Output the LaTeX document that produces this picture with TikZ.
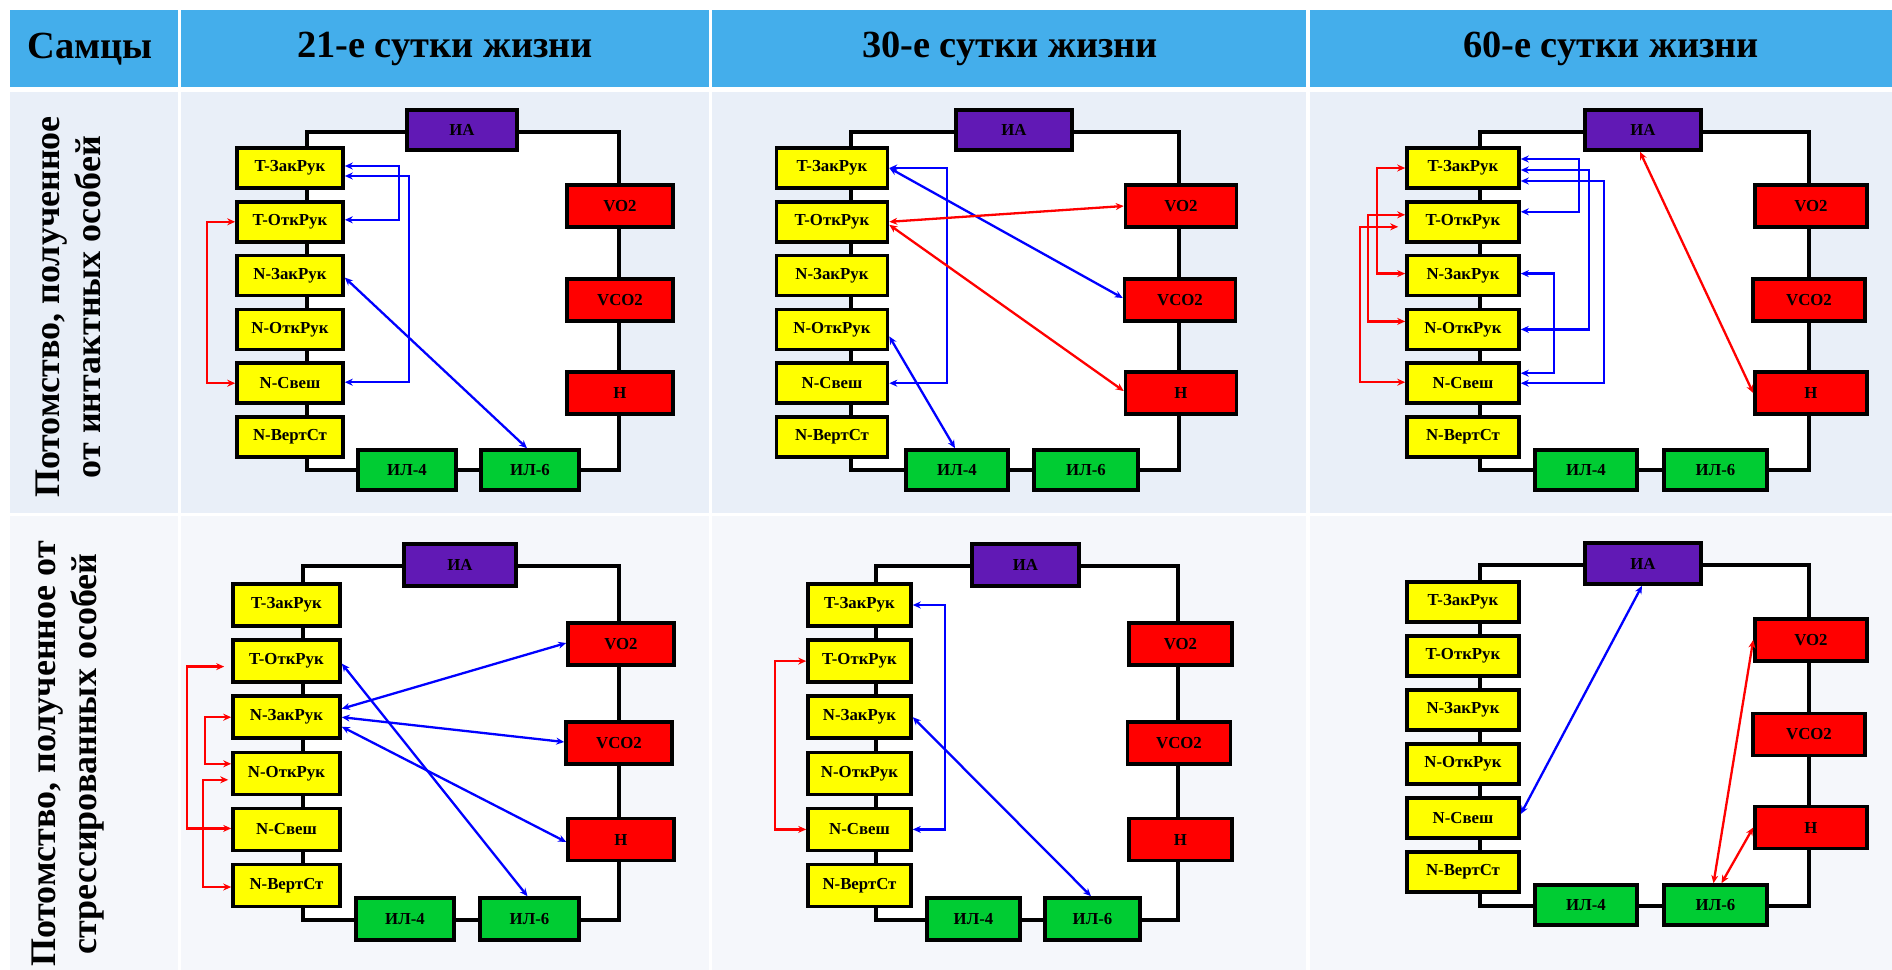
\documentclass[tikz,border=0pt]{standalone}
\usepackage{fontspec}
\setmainfont{Liberation Serif}
\usetikzlibrary{arrows.meta,calc}
\definecolor{hdr}{HTML}{44AEEB}
\definecolor{rowa}{HTML}{E9EFF8}
\definecolor{rowb}{HTML}{F5F7FB}
\definecolor{yel}{HTML}{FFFF00}
\definecolor{redc}{HTML}{FF0000}
\definecolor{grn}{HTML}{00CC33}
\definecolor{pur}{HTML}{6119B5}
\definecolor{blu}{HTML}{0000FF}
\newcommand\ycol[6]{%
  \foreach \nm/\lb [count=\i from 0] in {tz/T-ЗакРук,to/T-ОткРук,nz/N-ЗакРук,no/N-ОткРук,ns/N-Свеш,nv/N-ВертСт}{%
    \node[ybox,minimum width=#3,minimum height=#6] (#1\nm) at (#2,{#4+\i*#5}) {\lb};}}
\begin{document}
\begin{tikzpicture}[x=0.5pt,y=-0.5pt,
  bx/.style={draw=black,line width=1.8pt,inner sep=0pt,font=\bfseries\fontsize{8.4}{9}\selectfont,text=black},
  ybox/.style={bx,fill=yel},
  rbox/.style={bx,fill=redc},
  gbox/.style={bx,fill=grn},
  pbox/.style={bx,fill=pur},
  ring/.style={draw=black,line width=2.2pt,fill=white},
  ba/.style={draw=blu,line width=1.15pt,{Stealth[length=4pt,width=3.5pt]}-{Stealth[length=4pt,width=3.5pt]}},
  ra/.style={ba,draw=redc},
  hd/.style={font=\bfseries\fontsize{19.2}{23}\selectfont,text=black},
  rl/.style={font=\bfseries\fontsize{18}{20.5}\selectfont,rotate=90,align=center,text=black}
]
\useasboundingbox (0,0) rectangle (1892,970);
\fill[white] (0,0) rectangle (1892,970);
% table cells
\fill[hdr] (10,10) rectangle (178,87);
\fill[hdr] (181,10) rectangle (709,87);
\fill[hdr] (712,10) rectangle (1306,87);
\fill[hdr] (1310,10) rectangle (1892,87);
\fill[rowa] (10,92) rectangle (178,513);
\fill[rowa] (181,92) rectangle (709,513);
\fill[rowa] (712,92) rectangle (1306,513);
\fill[rowa] (1310,92) rectangle (1892,513);
\fill[rowb] (10,516) rectangle (178,970);
\fill[rowb] (181,516) rectangle (709,970);
\fill[rowb] (712,516) rectangle (1306,970);
\fill[rowb] (1310,516) rectangle (1892,970);
% headers
\node[hd] (hsam) at (90,49) {Самцы};
\node[hd] (h21) at (445,49) {21-е сутки жизни};
\node[hd] (h30) at (1010,49) {30-е сутки жизни};
\node[hd] (h60) at (1611,49) {60-е сутки жизни};
\node[rl] (r1) at (68,307) {Потомство, полученное\\от интактных особей};
\node[rl] (r2) at (68,754) {Потомство, полученное от\\стрессированных особей};
% rings
\draw[ring] (307,132) rectangle (619,470);
\draw[ring] (851,132) rectangle (1179,470);
\draw[ring] (1480,132) rectangle (1809,470);
\draw[ring] (303,566) rectangle (619,920);
\draw[ring] (876,566) rectangle (1178,920);
\draw[ring] (1480,565) rectangle (1809,906);
% ---------- panel 1
\ycol{p1}{290}{53pt}{168}{53.8}{20pt}
\node[pbox,minimum width=55pt,minimum height=20pt] (p1ia) at (462,130) {ИА};
\node[rbox,minimum width=53pt,minimum height=21pt] (p1vo) at (620,206) {VO2};
\node[rbox,minimum width=53pt,minimum height=21pt] (p1vc) at (620,300) {VCO2};
\node[rbox,minimum width=53pt,minimum height=21pt] (p1h) at (620,393) {Н};
\node[gbox,minimum width=49pt,minimum height=20pt] (p1i4) at (407,470) {ИЛ-4};
\node[gbox,minimum width=49pt,minimum height=20pt] (p1i6) at (530,470) {ИЛ-6};
\draw[ba] ($(p1tz.east)+(0,-2)$) -- ++(54,0) |- ($(p1to.east)+(0,-2)$);
\draw[ba] ($(p1tz.east)+(0,8)$) -- ++(64,0) |- ($(p1ns.east)+(0,-1)$);
\draw[ba] ($(p1nz.east)+(0,2)$) -- ($(p1i6.north)+(-3,0)$);
\draw[ra] (p1to.west) -- ++(-28,0) |- (p1ns.west);
% ---------- panel 2
\ycol{p2}{832}{55.5pt}{168}{53.8}{20pt}
\node[pbox,minimum width=58pt,minimum height=20pt] (p2ia) at (1014,130) {ИА};
\node[rbox,minimum width=55.5pt,minimum height=21pt] (p2vo) at (1181,206) {VO2};
\node[rbox,minimum width=55.5pt,minimum height=21pt] (p2vc) at (1180,300) {VCO2};
\node[rbox,minimum width=55.5pt,minimum height=21pt] (p2h) at (1181,393) {Н};
\node[gbox,minimum width=51pt,minimum height=20pt] (p2i4) at (957,470) {ИЛ-4};
\node[gbox,minimum width=52pt,minimum height=20pt] (p2i6) at (1086,470) {ИЛ-6};
\draw[ba] (p2tz.east) -- ++(58,0) |- (p2ns.east);
\draw[ba] (p2tz.east) -- ($(p2vc.west)+(0,-2)$);
\draw[ra] (p2to.east) -- (p2vo.west);
\draw[ra] ($(p2to.east)+(0,3)$) -- ($(p2h.west)+(0,-2)$);
\draw[ba] ($(p2no.east)+(0,7)$) -- ($(p2i4.north)+(-2,0)$);
% ---------- panel 3
\ycol{p3}{1463}{56pt}{168}{53.8}{20pt}
\node[pbox,minimum width=58pt,minimum height=20pt] (p3ia) at (1643,130) {ИА};
\node[rbox,minimum width=56pt,minimum height=21pt] (p3vo) at (1811,206) {VO2};
\node[rbox,minimum width=56pt,minimum height=21pt] (p3vc) at (1809,300) {VCO2};
\node[rbox,minimum width=56pt,minimum height=21pt] (p3h) at (1811,393) {Н};
\node[gbox,minimum width=51pt,minimum height=20pt] (p3i4) at (1586,470) {ИЛ-4};
\node[gbox,minimum width=51.5pt,minimum height=20pt] (p3i6) at (1715.5,470) {ИЛ-6};
\draw[ba] ($(p3tz.east)+(0,-9)$) -- ++(58,0) |- ($(p3to.east)+(0,-10)$);
\draw[ba] ($(p3tz.east)+(0,2)$) -- ++(68,0) |- (p3no.east);
\draw[ba] ($(p3tz.east)+(0,13)$) -- ++(83,0) |- (p3ns.east);
\draw[ba] ($(p3nz.east)+(0,-2)$) -- ++(33,0) |- ($(p3ns.east)+(0,-10)$);
\draw[ra] (p3tz.west) -- ++(-28,0) |- ($(p3nz.west)+(0,-2)$);
\draw[ra] ($(p3to.west)+(0,-7)$) -- ++(-37,0) |- ($(p3no.west)+(0,-8)$);
\draw[ra] ($(p3to.west)+(-7,5)$) -- ++(-38,0) |- ($(p3ns.west)+(0,-1)$);
\draw[ra] ($(p3ia.south)+(-3,0)$) -- (p3h.west);
% ---------- panel 4
\ycol{p4}{286.5}{53.5pt}{605}{56.1}{21pt}
\node[pbox,minimum width=56pt,minimum height=21pt] (p4ia) at (460,565) {ИА};
\node[rbox,minimum width=53pt,minimum height=21pt] (p4vo) at (621,644) {VO2};
\node[rbox,minimum width=53pt,minimum height=21pt] (p4vc) at (619,743) {VCO2};
\node[rbox,minimum width=53pt,minimum height=21pt] (p4h) at (621,839.5) {Н};
\node[gbox,minimum width=49pt,minimum height=21pt] (p4i4) at (405,919) {ИЛ-4};
\node[gbox,minimum width=49.5pt,minimum height=21pt] (p4i6) at (529.5,919) {ИЛ-6};
\draw[ba] ($(p4to.east)+(0,2.5)$) -- ($(p4i6.north)+(-2,0)$);
\draw[ba] ($(p4nz.east)+(0,-8.5)$) -- ($(p4vo.west)+(0,-1)$);
\draw[ba] (p4nz.east) -- ($(p4vc.west)+(0,-1)$);
\draw[ba] ($(p4nz.east)+(0,9.5)$) -- ($(p4h.west)+(0,2.5)$);
\draw[ra] ($(p4to.west)+(-7,5.5)$) -- ++(-37,0) |- ($(p4ns.west)+(0,-1)$);
\draw[ra] (p4nz.west) -- ++(-26,0) |- ($(p4no.west)+(0,-9.5)$);
\draw[ra] ($(p4no.west)+(-3,6.5)$) -- ++(-25,0) |- ($(p4nv.west)+(0,1.5)$);
% ---------- panel 5
\ycol{p5}{859.5}{51.5pt}{605}{56.1}{21pt}
\node[pbox,minimum width=53.5pt,minimum height=21pt] (p5ia) at (1025.5,565) {ИА};
\node[rbox,minimum width=51.5pt,minimum height=21pt] (p5vo) at (1180.5,644) {VO2};
\node[rbox,minimum width=51.5pt,minimum height=21pt] (p5vc) at (1179,743) {VCO2};
\node[rbox,minimum width=51.5pt,minimum height=21pt] (p5h) at (1180.5,839.5) {Н};
\node[gbox,minimum width=46.5pt,minimum height=21pt] (p5i4) at (973.5,919) {ИЛ-4};
\node[gbox,minimum width=47.5pt,minimum height=21pt] (p5i6) at (1092.5,919) {ИЛ-6};
\draw[ba] (p5tz.east) -- ++(32,0) |- (p5ns.east);
\draw[ba] (p5nz.east) -- ($(p5i6.north)+(-1.5,0)$);
\draw[ra] (p5to.west) -- ++(-31,0) |- (p5ns.west);
% ---------- panel 6
\ycol{p6}{1463}{56pt}{602}{54}{20pt}
\node[pbox,minimum width=58pt,minimum height=20.5pt] (p6ia) at (1643,563.5) {ИА};
\node[rbox,minimum width=56pt,minimum height=21pt] (p6vo) at (1811,640) {VO2};
\node[rbox,minimum width=56pt,minimum height=21pt] (p6vc) at (1809,734.5) {VCO2};
\node[rbox,minimum width=56pt,minimum height=21pt] (p6h) at (1811,827.5) {Н};
\node[gbox,minimum width=51pt,minimum height=20pt] (p6i4) at (1586,905) {ИЛ-4};
\node[gbox,minimum width=51.5pt,minimum height=20pt] (p6i6) at (1715.5,905) {ИЛ-6};
\draw[ba] ($(p6ns.east)+(0,-4)$) -- ($(p6ia.south)+(-1,0)$);
\draw[ra] (p6vo.west) -- ($(p6i6.north)+(-2,0)$);
\draw[ra] (p6h.west) -- ($(p6i6.north)+(6,0)$);
\end{tikzpicture}
\end{document}
